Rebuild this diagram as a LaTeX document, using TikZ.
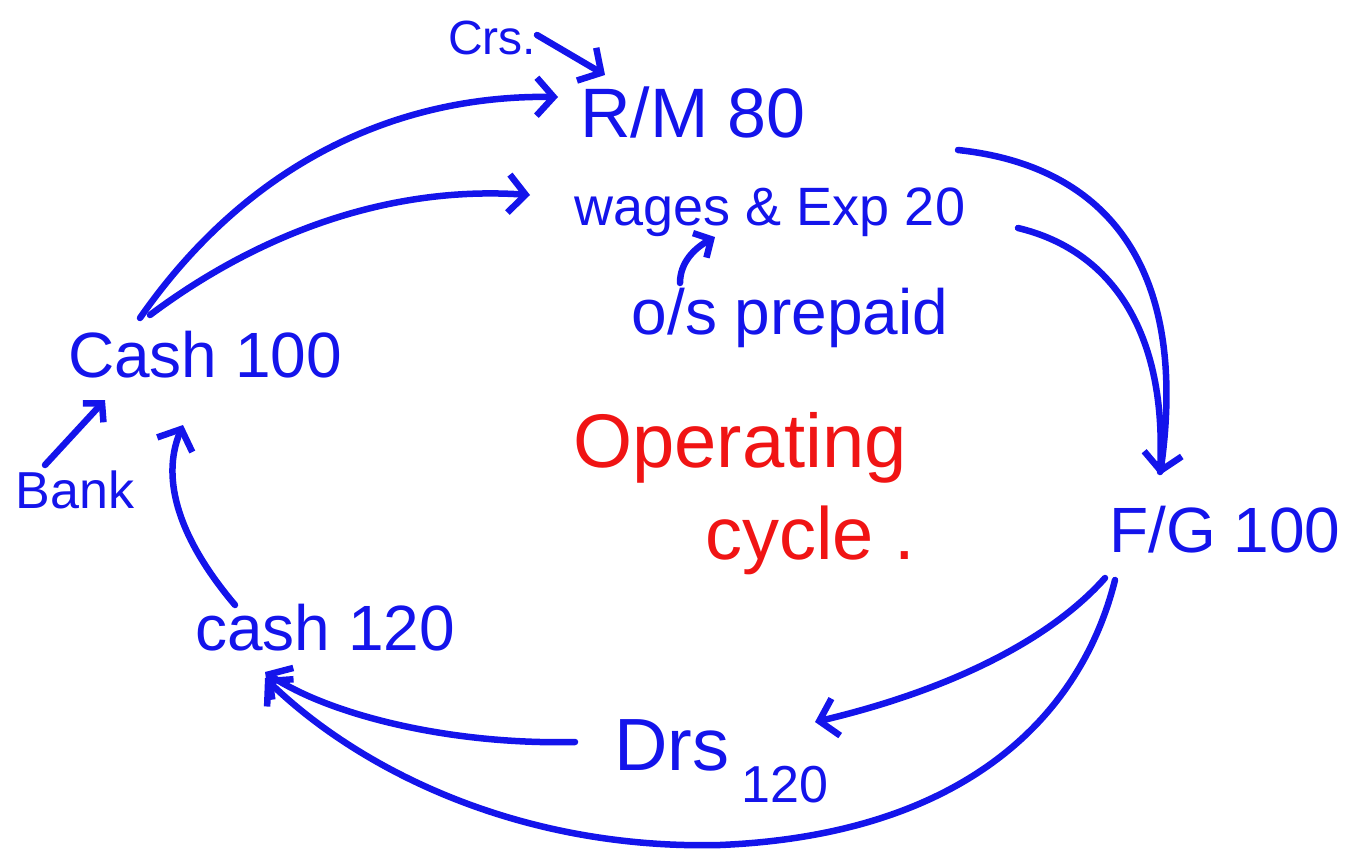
\documentclass[tikz,border=0pt]{standalone}
\usepackage{fontspec}
\setmainfont{Liberation Sans}
\usetikzlibrary{arrows.meta}
\definecolor{pen}{RGB}{20,20,235}
\definecolor{redpen}{RGB}{240,20,20}
\begin{document}
\begin{tikzpicture}[x=1pt,y=-1pt,
  stroke/.style={draw=pen, line width=6.5pt, line cap=round, line join=round},
  flow/.style={stroke, -{Straight Barb[length=17pt,width=38pt]}},
  smallflow/.style={stroke, -{Straight Barb[length=13pt,width=28pt]}},
  lbl/.style={text=pen, inner sep=0pt, font=\fontsize{#1}{#1}\selectfont},
  redlbl/.style={text=redpen, inner sep=0pt, font=\fontsize{#1}{#1}\selectfont}]
\useasboundingbox (0,0) rectangle (1346,857);

% stages of the cycle
\node[lbl=48] (crs) at (492,38) {Crs.};
\node[lbl=70] (rm) at (693,112) {R/M 80};
\node[lbl=54] (wages) at (770,212) {wages \& Exp 20};
\node[lbl=64] (prepaid) at (790,318) {o/s prepaid};
\node[lbl=64] (cash100) at (205,355) {Cash 100};
\node[lbl=52] (bank) at (75,490) {Bank};
\node[lbl=64] (fg) at (1225,530) {F/G 100};
\node[lbl=74] (drs) at (672,745) {Drs};
\node[lbl=52] (drsamt) at (785,785) {120};
\node[lbl=64] (cash120) at (325,628) {cash 120};

% title in the middle
\node[redlbl=76] (op) at (740,448) {Operating};
\node[redlbl=74] (cyc) at (810,540) {cycle .};

% cash spent on materials and wages
\draw[flow] ([shift={(-65,-37)}]cash100.center) .. controls (250,160) and (400,95) .. ([shift={(-135,-15)}]rm.center);
\draw[flow] ([shift={(-55,-40)}]cash100.center) .. controls (250,240) and (380,185) .. ([shift={(-240,-17)}]wages.center);
\draw[flow] ([shift={(45,-3)}]crs.center) -- ([shift={(-88,-37)}]rm.center);
\draw[smallflow] ([shift={(-110,-35)}]prepaid.center) .. controls (680,262) and (695,248) .. ([shift={(-55,25)}]wages.center);

% conversion into finished goods
\draw[stroke] ([shift={(248,16)}]wages.center) .. controls (1110,250) and (1168,330) .. ([shift={(-65,-58)}]fg.center);
\draw[flow] ([shift={(265,38)}]rm.center) .. controls (1100,165) and (1190,260) .. ([shift={(-65,-55)}]fg.center);

% sales and collection
\draw[flow] ([shift={(-120,48)}]fg.center) .. controls (1050,640) and (950,690) .. ([shift={(143,-23)}]drs.center);
\draw[flow] ([shift={(-110,50)}]fg.center) .. controls (1080,720) and (960,835) .. (720,845)
   .. controls (520,850) and (360,770) .. ([shift={(-60,50)}]cash120.center);
\draw[flow] ([shift={(-97,-3)}]drs.center) .. controls (450,745) and (330,715) .. ([shift={(-60,44)}]cash120.center);

% cash back to the start
\draw[flow] ([shift={(-90,-23)}]cash120.center) .. controls (180,540) and (160,480) .. ([shift={(-22,70)}]cash100.center);
\draw[smallflow] ([shift={(-30,-25)}]bank.center) -- ([shift={(-100,45)}]cash100.center);
\end{tikzpicture}
\end{document}
